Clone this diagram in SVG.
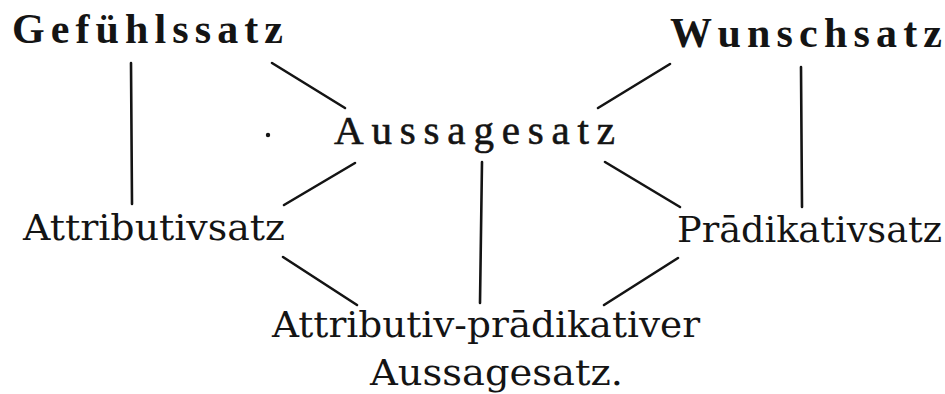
<svg xmlns="http://www.w3.org/2000/svg" width="945" height="394" viewBox="0 0 945 394">
<style>
.t{font-family:"DejaVu Serif","Liberation Serif",serif;fill:#141414}
.s{font-family:"Liberation Serif","DejaVu Serif",serif;fill:#141414}
.b{font-weight:bold}
.c line{stroke:#141414;stroke-width:2.6;stroke-linecap:round}
</style>
<rect width="945" height="394" fill="#fff"/>
<g id="gefuehlssatz"><text class="s b" x="12" y="43" font-size="42" textLength="271" lengthAdjust="spacing">Gefühlssatz</text></g>
<g id="wunschsatz"><text class="s b" x="670" y="47" font-size="42" textLength="272" lengthAdjust="spacing">Wunschsatz</text></g>
<g id="aussagesatz"><text class="s" x="334" y="144" font-size="41" stroke="#141414" stroke-width="0.6" textLength="281" lengthAdjust="spacing">Aussagesatz</text></g>
<g id="attributivsatz"><text class="t" x="23" y="240" font-size="35" textLength="262" lengthAdjust="spacingAndGlyphs">Attributivsatz</text></g>
<g id="praedikativsatz"><text class="t" x="677" y="242" font-size="35" textLength="265" lengthAdjust="spacingAndGlyphs">Prādikativsatz</text></g>
<g id="attributiv-praedikativer"><text class="t" x="272" y="337" font-size="35" textLength="428" lengthAdjust="spacingAndGlyphs">Attributiv-prādikativer</text><text class="t" x="370" y="385" font-size="35" textLength="253" lengthAdjust="spacingAndGlyphs">Aussagesatz.</text></g>
<circle cx="268" cy="135" r="2.2" fill="#141414"/>
<g class="c" id="connectors">
<line x1="131" y1="63" x2="132" y2="204"/>
<line x1="272" y1="63" x2="345" y2="108"/>
<line x1="355" y1="163" x2="284" y2="205"/>
<line x1="670" y1="64" x2="598" y2="108"/>
<line x1="801" y1="67" x2="802" y2="207"/>
<line x1="605" y1="162" x2="680" y2="207"/>
<line x1="482" y1="162" x2="480" y2="303"/>
<line x1="283" y1="257" x2="357" y2="305"/>
<line x1="678" y1="258" x2="604" y2="305"/>
</g>
</svg>
